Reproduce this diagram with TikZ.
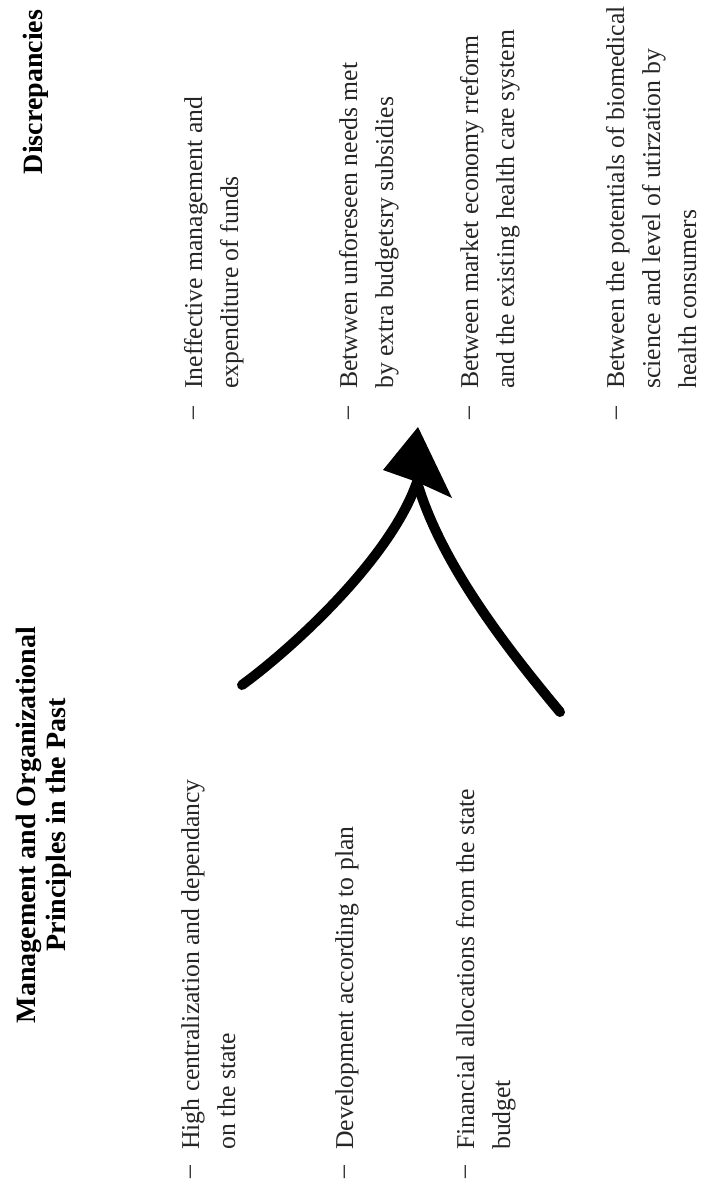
\documentclass[tikz,border=0pt]{standalone}
\usepackage{fontspec}
\setmainfont{Liberation Serif}
\begin{document}
\begin{tikzpicture}[x=1pt,y=-1pt,
  item/.style={rotate=90,anchor=base west,inner sep=0pt,align=left,
    text=black!85,font=\fontsize{25.7}{36}\selectfont},
  head/.style={rotate=90,inner sep=0pt,align=center,
    font=\fontsize{28}{30}\selectfont\bfseries},
  dashmark/.style={rotate=90,inner sep=0pt,text=black!85,
    font=\fontsize{25.7}{36}\selectfont},
  shaft/.style={line width=10pt,line cap=round}]
\fill[white] (0,0) rectangle (703,1188);
\useasboundingbox (0,0) rectangle (703,1188);
% past principles (base = last line)
\node[head] (past) at (44,825) {Management and Organizational\\Principles in the Past};
\node[item] (high) at (235,1150) {High centralization and dependancy\\on the state};
\node[item] (plan) at (353,1150) {Development according to plan};
\node[item] (fin) at (510,1150) {Financial allocations from the state\\budget};
\node[dashmark] (dhigh) at (193,1172) {--};
\node[dashmark] (dplan) at (347,1172) {--};
\node[dashmark] (dfin) at (468,1172) {--};
% discrepancies
\node[head,anchor=base] (disc) at (42,92) {Discrepancies};
\node[item] (funds) at (238,389) {Ineffective management and\\expenditure of funds};
\node[item] (needs) at (393,389) {Betwwen unforeseen needs met\\by extra budgetsry subsidies};
\node[item] (market) at (514,389) {Between market economy rreform\\and the existing health care system};
\node[item] (biomed) at (696,389) {Between the potentials of biomedical\\science and level of utirzation by\\health consumers};
\node[dashmark] (dfunds) at (196,413) {--};
\node[dashmark] (dneeds) at (351,413) {--};
\node[dashmark] (dmarket) at (472,413) {--};
\node[dashmark] (dbiomed) at (619,413) {--};
% arrow
\coordinate (tailL) at (242,685);
\coordinate (tailR) at (560,712);
\coordinate (notch) at (417,482);
\coordinate (tip) at (418,427);
\coordinate (barbL) at (383,470);
\coordinate (barbR) at (452,498);
\draw[shaft] (tailL) .. controls (290,650) and (390,560) .. (notch);
\draw[shaft] (tailR) .. controls (500,640) and (440,560) .. (notch);
\fill (tip) -- (barbL) -- (notch) -- (barbR) -- cycle;
\end{tikzpicture}
\end{document}
